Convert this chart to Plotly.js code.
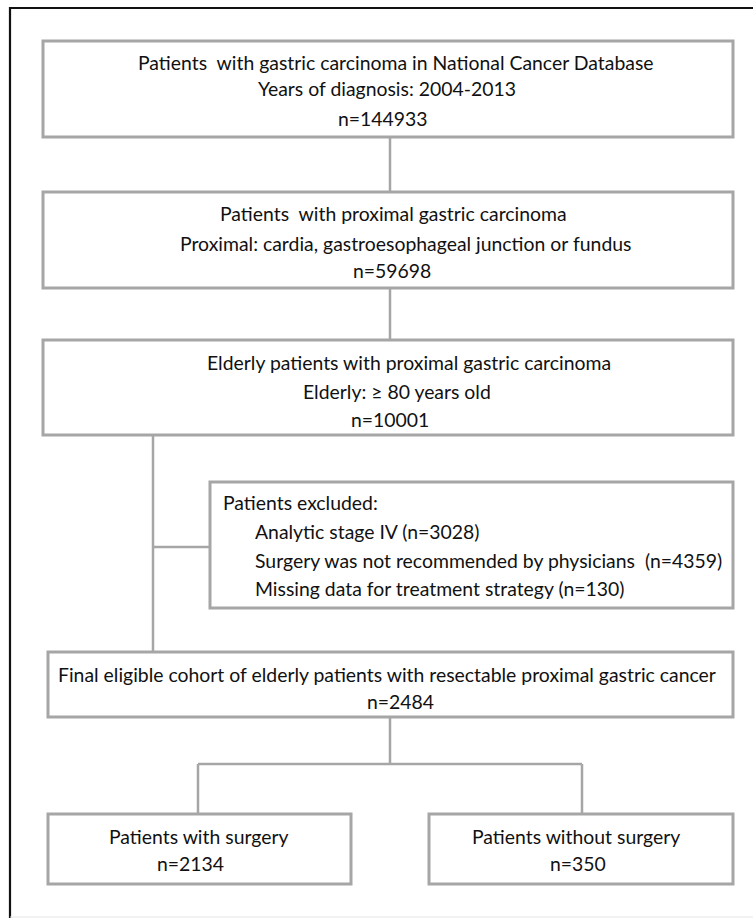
<!DOCTYPE html>
<html>
<head>
<meta charset="utf-8">
<script src="https://cdn.plot.ly/plotly-3.0.1.min.js"></script>
<style>html,body{margin:0;padding:0;background:#fff;}#chart{width:753px;height:918px;}</style>
</head>
<body>
<div id="chart"></div>
<script>
// ---- Data (flow stages) ----
const stageTitles = [
  "Patients\u00a0 with gastric carcinoma in National Cancer Database",
  "Patients\u00a0 with proximal gastric carcinoma",
  "Elderly patients with proximal gastric carcinoma",
  "Final eligible cohort of elderly patients with resectable proximal gastric cancer"
];
const stageNotes = [
  "Years of diagnosis: 2004-2013",
  "Proximal: cardia, gastroesophageal junction or fundus",
  "Elderly: \u2265 80 years old",
  ""
];
const stageCounts = [144933, 59698, 10001, 2484];
const exclusionHeader = "Patients excluded:";
const exclusionReasons = [
  "Analytic stage IV",
  "Surgery was not recommended by physicians\u00a0",
  "Missing data for treatment strategy"
];
const exclusionCounts = [3028, 4359, 130];
const groupLabels = ["Patients with surgery", "Patients without surgery"];
const groupCounts = [2134, 350];

// ---- Layout geometry (pixels, y downwards) ----
const BOX = "#a6a6a6", LINE = "#a6a6a6", TXT = "#111111";
const FONT = "Lato, 'Open Sans', sans-serif";
const FS = 19.4;

const shapes = [];
function rect(x0, y0, x1, y1) {
  shapes.push({type: "rect", xref: "x", yref: "y", x0, y0, x1, y1,
    line: {color: BOX, width: 3}, fillcolor: "rgba(0,0,0,0)"});
}
function seg(x0, y0, x1, y1) {
  shapes.push({type: "line", xref: "x", yref: "y", x0, y0, x1, y1,
    line: {color: LINE, width: 2.5}});
}
// outer frame (right and bottom edges run off the picture)
shapes.push({type: "rect", xref: "x", yref: "y", x0: 10, y0: 8, x1: 800, y1: 960,
  line: {color: "#111", width: 2.2}});
shapes.push({type: "line", xref: "x", yref: "y", x0: 10, y0: 917, x1: 753, y1: 917,
  line: {color: "#e6e6e6", width: 1}});

const stageBoxes = [[43, 41, 733, 137], [43, 192, 733, 288], [43, 340, 733, 435], [48, 652, 733, 717]];
stageBoxes.forEach(b => rect(...b));
rect(210, 482, 733, 608);
rect(48, 814, 351, 884);
rect(429, 814, 733, 884);
seg(390, 137, 390, 192);
seg(390, 288, 390, 340);
seg(153, 435, 153, 652);
seg(153, 547, 210, 547);
seg(390, 717, 390, 764);
seg(198, 764, 582, 764);
seg(198, 764, 198, 814);
seg(582, 764, 582, 814);

const annotations = [];
function txt(text, x, y, anchor) {
  annotations.push({text, x, y, xref: "x", yref: "y", xanchor: anchor || "center",
    yanchor: "middle", showarrow: false, font: {family: FONT, size: FS, color: TXT}});
}
const stageTextPos = [
  [396, 62, 387, 88, 383, 118],
  [393, 213, 405, 243, 392, 270],
  [409, 362, 397, 391, 390, 419],
  [387, 674, 0, 0, 400, 701]
];
stageTitles.forEach((t, i) => {
  const p = stageTextPos[i];
  txt(t, p[0], p[1]);
  if (stageNotes[i]) txt(stageNotes[i], p[2], p[3]);
  txt("n=" + stageCounts[i], p[4], p[5]);
});
txt(exclusionHeader, 221, 502, "left");
const exclY = [531, 560, 588];
exclusionReasons.forEach((r, i) => txt(r + " (n=" + exclusionCounts[i] + ")", 253, exclY[i], "left"));
const groupPos = [[199, 836, 190, 863], [576, 836, 578, 863]];
groupLabels.forEach((g, i) => {
  const p = groupPos[i];
  txt(g, p[0], p[1]);
  txt("n=" + groupCounts[i], p[2], p[3]);
});

const layout = {
  width: 753, height: 918,
  margin: {l: 0, r: 0, t: 0, b: 0, pad: 0},
  paper_bgcolor: "#fff", plot_bgcolor: "#fff",
  xaxis: {range: [0, 753], visible: false, fixedrange: true},
  yaxis: {range: [918, 0], visible: false, fixedrange: true},
  showlegend: false,
  shapes, annotations
};
Plotly.newPlot("chart", [], layout, {staticPlot: true, displayModeBar: false});
</script>
</body>
</html>
